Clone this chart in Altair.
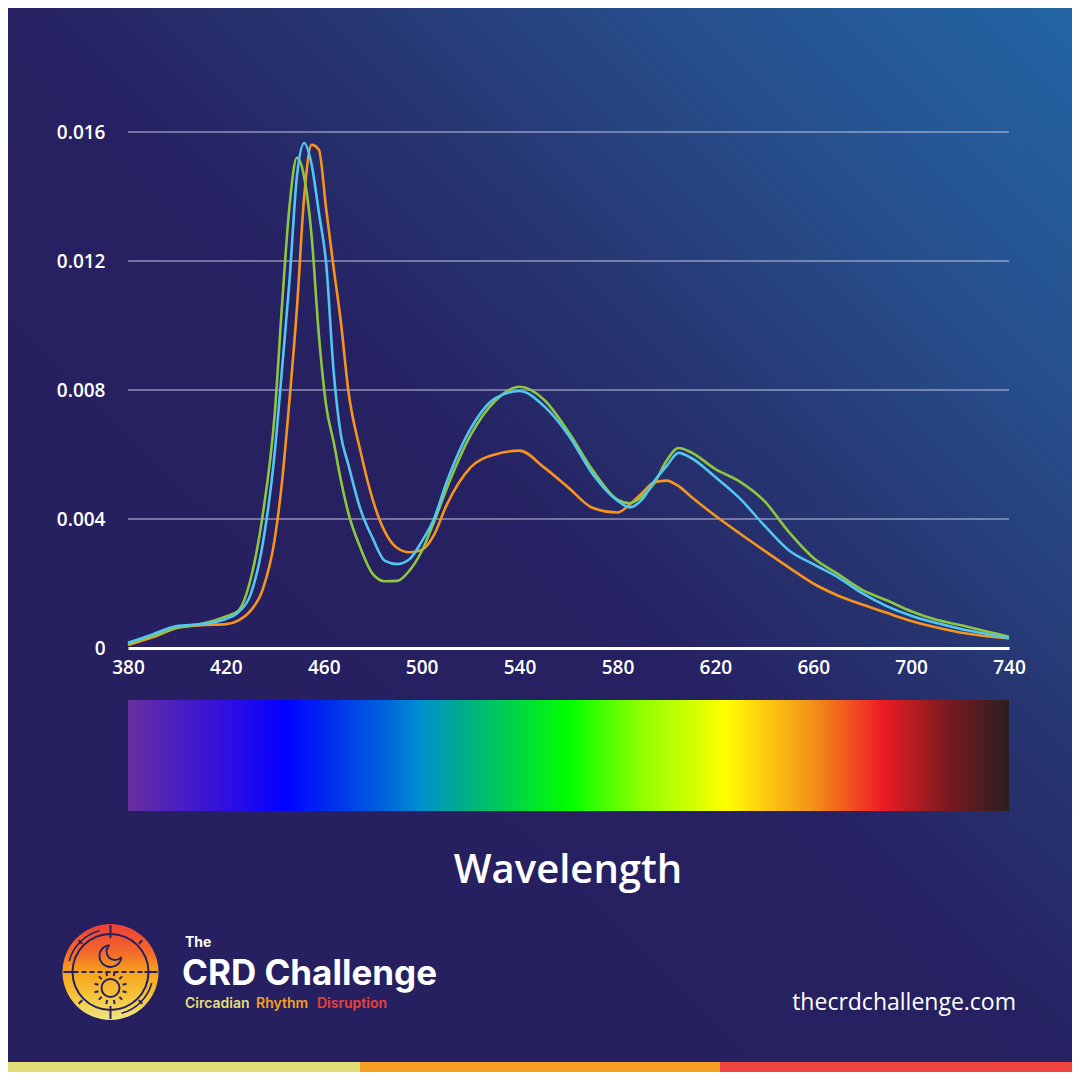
import math
import altair as alt
import pandas as pd

# ---------------- data ----------------
wavelengths = [380, 390, 400, 410, 420, 425, 430, 435, 440, 443, 446, 449, 452, 455,
               458, 461, 464, 467, 470, 475, 480, 485, 490, 495, 500, 505, 510, 520,
               530, 540, 550, 560, 570, 580, 585, 590, 595, 600, 605, 610, 620, 630,
               640, 650, 660, 670, 680, 690, 700, 710, 720, 730, 740]

green_spd = [0.00012, 0.00037, 0.00063, 0.00075, 0.00098, 0.00115, 0.0021, 0.0041, 0.0073,
             0.0107, 0.0137, 0.0152, 0.0146, 0.0128, 0.0097, 0.0075, 0.0064, 0.0052, 0.0042,
             0.0031, 0.0023, 0.00207, 0.00208, 0.0024, 0.0030, 0.0039, 0.0049, 0.0066,
             0.00766, 0.0081, 0.0077, 0.0067, 0.0055, 0.0046, 0.00449, 0.0047, 0.0051,
             0.0058, 0.0062, 0.00607, 0.00555, 0.00516, 0.00456, 0.0036, 0.0028, 0.0023,
             0.0018, 0.00148, 0.00114, 0.00088, 0.00071, 0.00053, 0.00035]

blue_spd = [0.00016, 0.00042, 0.00068, 0.00074, 0.00090, 0.0011, 0.00164, 0.0032, 0.0061,
            0.0087, 0.0114, 0.0146, 0.01566, 0.0150, 0.0135, 0.0119, 0.0086, 0.0066, 0.0057,
            0.0043, 0.0034, 0.0027, 0.0026, 0.00275, 0.0033, 0.0040, 0.0051, 0.0068,
            0.00774, 0.00797, 0.0075, 0.0066, 0.00538, 0.00457, 0.00436, 0.0046, 0.00517,
            0.00563, 0.00605, 0.0059, 0.0053, 0.00464, 0.0038, 0.00303, 0.0026, 0.0022,
            0.0017, 0.0013, 0.0010, 0.00078, 0.0006, 0.00045, 0.0003]

orange_spd = [0.00009, 0.00033, 0.00062, 0.00071, 0.00074, 0.00085, 0.00115, 0.0018, 0.0034,
              0.0052, 0.0077, 0.0105, 0.0140, 0.0156, 0.01545, 0.0136, 0.0118, 0.0101, 0.0080,
              0.0061, 0.0046, 0.0036, 0.0031, 0.00297, 0.00304, 0.0035, 0.0044, 0.0056,
              0.0060, 0.00612, 0.0056, 0.00497, 0.00434, 0.0042, 0.00445, 0.0048, 0.00514,
              0.00519, 0.00502, 0.0047, 0.0041, 0.00355, 0.00302, 0.0025, 0.0020, 0.00163,
              0.00135, 0.00109, 0.00084, 0.00064, 0.00048, 0.00037, 0.0003]

x_ticks = [380, 420, 460, 500, 540, 580, 620, 660, 700, 740]
y_ticks = [0, 0.004, 0.008, 0.012, 0.016]
grid_values = [0.004, 0.008, 0.012, 0.016]
x_domain = [380, 740]
y_domain = [0, 0.016]

# ---------------- styling ----------------
FONT = "Open Sans"
LOGO_FONT = "Inter"
NAVY = "#262060"
W, H = 881, 516

xs = alt.Scale(domain=x_domain, nice=False, zero=False)
ys = alt.Scale(domain=y_domain, nice=False, zero=True)

xaxis = alt.Axis(values=x_ticks, title=None, grid=False, ticks=False, domain=True,
                 domainColor="white", domainWidth=3, labelColor="white", labelFont=FONT,
                 labelFontSize=19, labelFontWeight=600, labelPadding=10, labelFlush=False,
                 labelOverlap=False, zindex=1)
yaxis = alt.Axis(values=y_ticks, title=None, grid=False, ticks=False, domain=False,
                 labelColor="white", labelFont=FONT, labelFontSize=19, labelFontWeight=600,
                 labelPadding=23, labelExpr="datum.value == 0 ? '0' : format(datum.value, '.3f')",
                 zindex=1)

one = pd.DataFrame({"k": [0]})


def grad(stops, **coords):
    g = {"gradient": coords.pop("kind", "linear"),
         "stops": [{"offset": o, "color": c} for o, c in stops]}
    g.update(coords)
    return g


bg_grad = grad([(0, "#2265a4"), (0.18, "#27508e"), (0.35, "#263672"),
                (0.5, "#262162"), (1, "#261f5f")],
               x1=1, y1=0, x2=0, y2=1)

spectrum_grad = grad([(0, "#6a2f9e"), (0.056, "#4a1fc0"), (0.111, "#3010e0"),
                      (0.178, "#0000ff"), (0.25, "#0040e8"), (0.292, "#0064dc"),
                      (0.333, "#0090d0"), (0.375, "#00aa90"), (0.431, "#00d050"),
                      (0.5, "#00ff00"), (0.583, "#90ff00"), (0.639, "#d0ff00"),
                      (0.678, "#ffff00"), (0.722, "#fccc10"), (0.778, "#f39018"),
                      (0.856, "#ed1c24"), (0.931, "#7a1a20"), (1, "#2a1e20")],
                     x1=0, y1=0, x2=1, y2=0)

logo_grad = grad([(0, "#ee3f37"), (0.3, "#f26a2c"), (0.5, "#f7a21c"),
                  (0.75, "#f5c43a"), (1, "#eee683")],
                 x1=0, y1=0, x2=0, y2=1)

layers = []

# background
layers.append(alt.Chart(one).mark_rect(fill=bg_grad).encode(
    x=alt.value(-120), x2=alt.value(944), y=alt.value(-124), y2=alt.value(940)))

# grid lines
layers.append(alt.Chart(pd.DataFrame({"value": grid_values})).mark_rule(
    color="#c3c6e0", strokeWidth=1).encode(
    y=alt.Y("value:Q", scale=ys, axis=yaxis)))

# spectrum bar
layers.append(alt.Chart(one).mark_rect(fill=spectrum_grad).encode(
    x=alt.X(datum=x_domain[0], type="quantitative", scale=xs, axis=xaxis),
    x2=alt.X2(datum=x_domain[1]),
    y=alt.value(568), y2=alt.value(679)))

# spectral power curves
for vals, color in [(orange_spd, "#f7941d"), (green_spd, "#8dc63f"), (blue_spd, "#52c5f1")]:
    df = pd.DataFrame({"wavelength": wavelengths, "value": vals})
    layers.append(alt.Chart(df).mark_line(color=color, strokeWidth=2.6,
                                          interpolate="monotone").encode(
        x=alt.X("wavelength:Q", scale=xs, axis=xaxis),
        y=alt.Y("value:Q", scale=ys, axis=yaxis)))

# axis title
layers.append(alt.Chart(one).mark_text(text="Wavelength", font=FONT, fontSize=40,
                                       fontWeight=600, color="white", align="center",
                                       baseline="alphabetic").encode(
    x=alt.value(440), y=alt.value(751)))

# ---------------- logo ----------------
cx, cy = -17.5, 840


def ring(ccx, ccy, r, thick, t1, t2):
    return alt.Chart(one).mark_arc(radius=r + thick / 2, radius2=r - thick / 2,
                                   theta=math.radians(t1), theta2=math.radians(t2),
                                   fill=NAVY).encode(x=alt.value(ccx), y=alt.value(ccy))


def seg(x1, y1, x2, y2, dash=None):
    kw = {"color": NAVY, "strokeWidth": 2}
    if dash:
        kw["strokeDash"] = dash
    return alt.Chart(one).mark_rule(**kw).encode(
        x=alt.value(x1), y=alt.value(y1), x2=alt.value(x2), y2=alt.value(y2))


def polar(ccx, ccy, r, deg):
    a = math.radians(deg)
    return ccx + r * math.sin(a), ccy - r * math.cos(a)


layers.append(alt.Chart(one).mark_arc(radius=48, theta=0, theta2=2 * math.pi,
                                      fill=logo_grad).encode(
    x=alt.value(cx), y=alt.value(cy)))
# reticle rings
layers.append(ring(cx, cy, 38, 2, 0, 360))
for t1, t2 in [(285, 345), (105, 165)]:
    layers.append(ring(cx, cy, 42.7, 1.6, t1, t2))
# cardinal and diagonal ticks
for deg in [0, 90, 180, 270]:
    p1 = polar(cx, cy, 34, deg)
    p2 = polar(cx, cy, 47, deg)
    layers.append(seg(p1[0], p1[1], p2[0], p2[1]))
for deg in [45, 135, 225, 315]:
    p1 = polar(cx, cy, 40, deg)
    p2 = polar(cx, cy, 45, deg)
    layers.append(seg(p1[0], p1[1], p2[0], p2[1]))
# horizon
layers.append(seg(cx - 37, cy, cx + 37, cy, dash=[5, 3]))
# crescent moon: outer and inner arcs of two offset circles
mx, my = cx, cy - 16
layers.append(ring(mx, my, 11, 1.8, 95, 355))
layers.append(ring(mx + 4.5, my - 4.5, 8.5, 1.8, 131, 319))
# sun
sx, sy = cx, cy + 16
layers.append(ring(sx, sy, 9, 2, 0, 360))
for deg in range(15, 360, 30):
    p1 = polar(sx, sy, 12.5, deg)
    p2 = polar(sx, sy, 16.5, deg)
    layers.append(seg(p1[0], p1[1], p2[0], p2[1]))

# logo words
for txt, x, y, size, weight, color in [
        ("The", 57, 815, 14, 700, "white"),
        ("CRD Challenge", 54, 853, 35, 700, "white"),
        ("Circadian", 57, 876, 14, 600, "#e3df76"),
        ("Rhythm", 128, 876, 14, 600, "#f6a01e"),
        ("Disruption", 189, 876, 14, 600, "#ee4036")]:
    layers.append(alt.Chart(one).mark_text(text=txt, font=LOGO_FONT, fontSize=size,
                                           fontWeight=weight, color=color, align="left",
                                           baseline="alphabetic").encode(
        x=alt.value(x), y=alt.value(y)))

# url
layers.append(alt.Chart(one).mark_text(text="thecrdchallenge.com", font=FONT, fontSize=23,
                                       color="white", align="right",
                                       baseline="alphabetic").encode(
    x=alt.value(888), y=alt.value(878)))

# bottom stripe
for x1, x2, color in [(-120, 232, "#e3df78"), (232, 592, "#f5a021"), (592, 944, "#ef4340")]:
    layers.append(alt.Chart(one).mark_rect(fill=color).encode(
        x=alt.value(x1), x2=alt.value(x2), y=alt.value(930), y2=alt.value(940)))

chart = alt.layer(*layers).properties(
    width=W, height=H,
    padding={"left": 120, "top": 124, "right": 63, "bottom": 424},
    autosize=alt.AutoSizeParams(type="none"),
    background="#261f5f",
).configure_view(stroke=None)

chart.save("out.html", embed_options={"renderer": "svg", "actions": False})
